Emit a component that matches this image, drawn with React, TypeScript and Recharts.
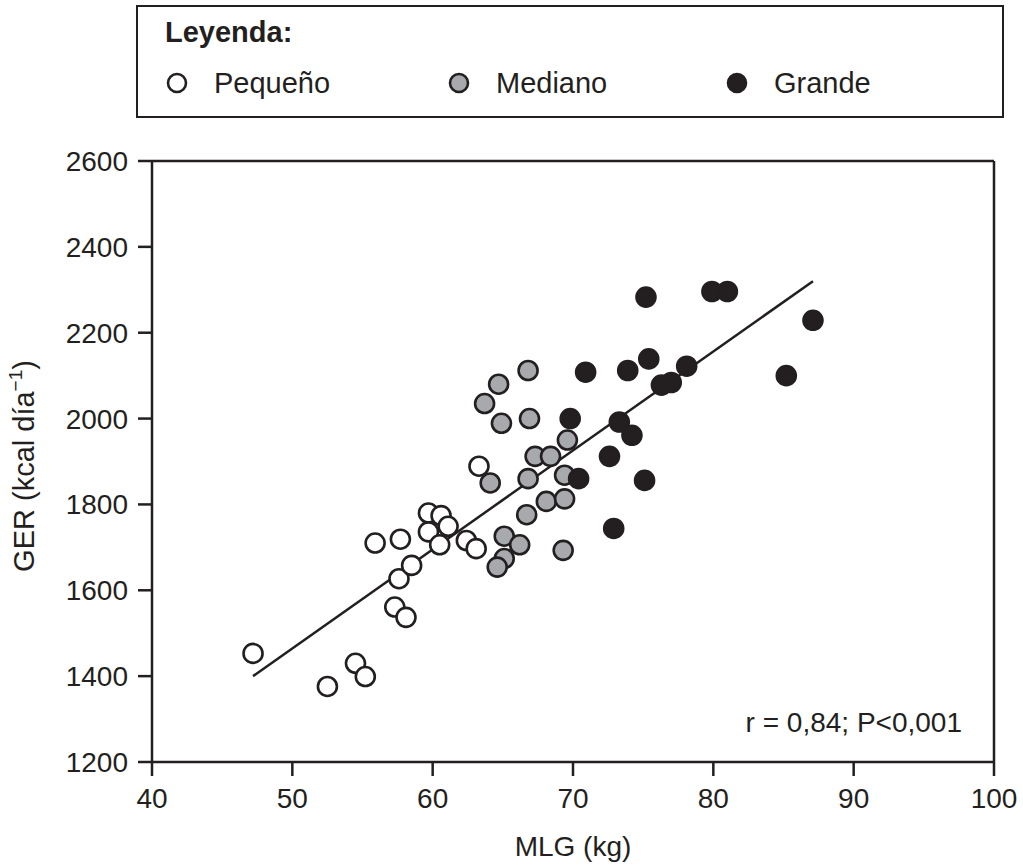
import React from 'react'
import {
  ScatterChart,
  Scatter,
  XAxis,
  YAxis,
  ReferenceLine,
  Legend,
} from 'recharts'

// values
const pequenoX = [47.2, 52.5, 54.5, 55.2, 55.9, 57.7, 57.3, 58.1, 57.6, 58.5, 59.7, 59.7, 60.6, 61.1, 60.5, 62.4, 63.1, 63.3]
const pequenoY = [1453, 1376, 1430, 1399, 1710, 1719, 1561, 1537, 1627, 1658, 1780, 1736, 1774, 1749, 1706, 1716, 1697, 1889]

const medianoX = [64.1, 65.1, 66.2, 65.1, 64.6, 66.8, 64.7, 63.7, 64.9, 66.9, 69.6, 67.3, 68.4, 66.8, 69.4, 68.1, 69.4, 66.7, 69.3]
const medianoY = [1850, 1726, 1706, 1674, 1654, 2112, 2080, 2035, 1989, 2000, 1950, 1912, 1912, 1860, 1868, 1807, 1813, 1776, 1693]

const grandeX = [70.9, 73.9, 75.4, 69.8, 73.3, 74.2, 72.6, 70.4, 75.1, 72.9, 76.3, 77.0, 78.1, 75.2, 79.9, 81.0, 87.1, 85.2]
const grandeY = [2108, 2112, 2139, 2000, 1992, 1961, 1912, 1860, 1856, 1744, 2078, 2084, 2122, 2283, 2296, 2296, 2229, 2100]

// regression line endpoints
const fitX = [47.2, 87.1]
const fitY = [1400, 2320]

const xTicks = [40, 50, 60, 70, 80, 90, 100]
const yTicks = [1200, 1400, 1600, 1800, 2000, 2200, 2400, 2600]

const INK = '#231f20'
const GRAY = '#a7a9ac'
const FONT = '"Liberation Sans", Arial, Helvetica, sans-serif'

const toPoints = (xs: number[], ys: number[]) => xs.map((x, i) => ({ x, y: ys[i] }))

const series = [
  { key: 'pequeno', name: 'Pequeño', fill: '#ffffff', data: toPoints(pequenoX, pequenoY) },
  { key: 'mediano', name: 'Mediano', fill: GRAY, data: toPoints(medianoX, medianoY) },
  { key: 'grande', name: 'Grande', fill: INK, data: toPoints(grandeX, grandeY) },
]

function XTick(props: any) {
  const { x, y, payload } = props
  return (
    <text x={x} y={y} dy="0.71em" textAnchor="middle" fill={INK} fontSize={28} fontFamily={FONT}>
      {payload.value}
    </text>
  )
}

function YTick(props: any) {
  const { x, y, payload } = props
  return (
    <text x={x} y={y} dy="0.355em" textAnchor="end" fill={INK} fontSize={28} fontFamily={FONT}>
      {payload.value}
    </text>
  )
}

function Dot(fill: string) {
  return (props: any) => {
    const { cx, cy } = props
    if (cx == null || cy == null) return null
    return <circle cx={cx} cy={cy} r={9.5} fill={fill} stroke={INK} strokeWidth={2.6} />
  }
}

function LegendBox() {
  const itemX = [39, 321, 599]
  return (
    <div
      style={{
        width: 868,
        height: 113,
        border: `2px solid ${INK}`,
        boxSizing: 'border-box',
        background: '#fff',
      }}
    >
      <svg width={864} height={109} style={{ display: 'block' }}>
        <text x={27} y={35} fontSize={29} fontWeight="bold" fill={INK} fontFamily={FONT}>
          Leyenda:
        </text>
        {series.map((s, i) => (
          <g key={s.key}>
            <circle cx={itemX[i]} cy={76} r={9} fill={s.fill} stroke={INK} strokeWidth={2.6} />
            <text x={itemX[i] + 37} y={86} fontSize={29} fill={INK} fontFamily={FONT}>
              {s.name}
            </text>
          </g>
        ))}
      </svg>
    </div>
  )
}

function YLabel(props: any) {
  const { viewBox } = props
  const cx = viewBox.x - 18
  const cy = 466
  return (
    <text
      x={cx}
      y={cy}
      transform={`rotate(-90, ${cx}, ${cy})`}
      textAnchor="middle"
      fontSize={29}
      fill={INK}
      fontFamily={FONT}
    >
      GER (kcal día
      <tspan dy={-12} fontSize={19}>−1</tspan>
      <tspan dy={12}>)</tspan>
    </text>
  )
}

const axisStroke = { stroke: INK, strokeWidth: 2.5 }

export default function App() {
  return (
    <div style={{ position: 'absolute', left: 0, top: 0, width: 1023, height: 868, background: '#fff', fontFamily: FONT }}>
      <ScatterChart
        width={1023}
        height={868}
        margin={{ top: 161, right: 29, bottom: 6, left: 52 }}
      >
        <XAxis
          type="number"
          dataKey="x"
          domain={[40, 100]}
          ticks={xTicks}
          allowDataOverflow
          height={100}
          axisLine={axisStroke}
          tickLine={axisStroke}
          tickSize={14}
          tickMargin={12}
          tick={<XTick />}
          label={{ value: 'MLG (kg)', position: 'insideBottom', offset: 6, fontSize: 28, fill: INK, fontFamily: FONT }}
        />
        <YAxis
          type="number"
          dataKey="y"
          domain={[1200, 2600]}
          ticks={yTicks}
          allowDataOverflow
          width={100}
          axisLine={axisStroke}
          tickLine={axisStroke}
          tickSize={14}
          tickMargin={10}
          tick={<YTick />}
          label={<YLabel />}
        />
        <Legend
          verticalAlign="middle"
          align="center"
          layout="horizontal"
          wrapperStyle={{ top: 5, left: 136, width: 868, height: 113 }}
          content={() => <LegendBox />}
        />
        {/* closes the frame on top and right */}
        <ReferenceLine y={2600} stroke={INK} strokeWidth={2.5} />
        <ReferenceLine x={100} stroke={INK} strokeWidth={2.5} />
        <ReferenceLine
          segment={[
            { x: fitX[0], y: fitY[0] },
            { x: fitX[1], y: fitY[1] },
          ]}
          stroke={INK}
          strokeWidth={2.5}
        />
        {series.map((s) => (
          <Scatter
            key={s.key}
            name={s.name}
            data={s.data}
            fill={s.fill}
            shape={Dot(s.fill)}
            isAnimationActive={false}
          />
        ))}
        <text x={962} y={732} textAnchor="end" fontSize={28} fill={INK} fontFamily={FONT}>
          r = 0,84; P{'<'}0,001
        </text>
      </ScatterChart>
    </div>
  )
}
